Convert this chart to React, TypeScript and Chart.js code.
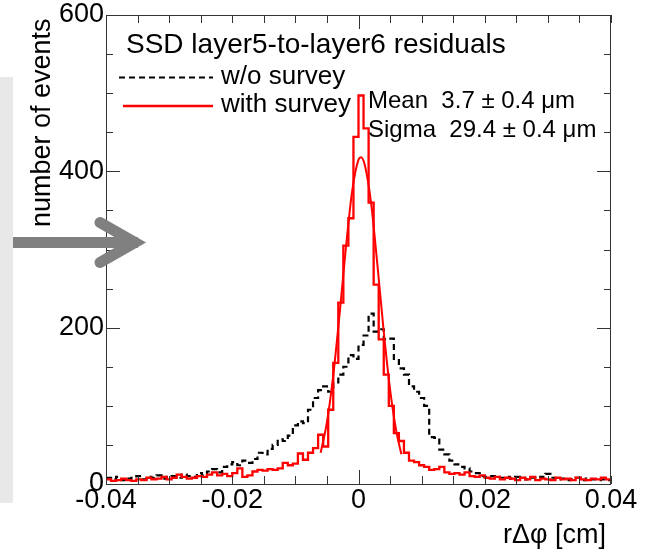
import React, { useEffect, useRef } from "react";
import { Chart, registerables } from "chart.js";

Chart.register(...registerables);

// ---- data ----
const binLow = -0.04;
const binWidth = 0.0008; // 100 bins over [-0.04, 0.04]

const withSurvey = [
  6, 4, 5, 7, 5, 4, 6, 5, 8, 6,
  7, 9, 6, 8, 12, 9, 7, 8, 10, 9,
  12, 15, 11, 13, 10, 14, 20, 9, 11, 16,
  18, 17, 19, 18, 20, 27, 24, 26, 39, 31,
  40, 46, 63, 48, 95, 155, 232, 305, 340, 444,
  497, 455, 360, 255, 185, 140, 100, 65, 55, 40,
  30, 28, 24, 22, 18, 19, 22, 15, 13, 14,
  12, 15, 10, 9, 11, 8, 7, 9, 6, 8,
  7, 5, 8, 6, 9, 5, 7, 6, 5, 8,
  6, 7, 5, 8, 6, 5, 7, 6, 8, 6,
];

const withoutSurvey = [
  8, 6, 9, 5, 7, 8, 10, 6, 9, 8,
  11, 7, 9, 10, 8, 12, 10, 9, 14, 11,
  16, 19, 15, 22, 25, 28, 24, 30, 27, 32,
  40, 38, 45, 50, 57, 55, 62, 75, 80, 78,
  95, 110, 120, 125, 118, 130, 140, 150, 165, 160,
  178, 190, 218, 195, 198, 185, 186, 160, 148, 140,
  125, 118, 110, 100, 60, 59, 44, 38, 30, 25,
  22, 20, 16, 14, 10, 9, 10, 9, 8, 9,
  7, 9, 8, 6, 8, 7, 9, 13, 8, 6,
  7, 5, 6, 8, 5, 7, 6, 5, 6, 5,
];

// Gaussian fit curve
const fitX = [-0.006, -0.005, -0.004, -0.003, -0.002, -0.001, 0, 0.0004, 0.001, 0.002, 0.003, 0.004, 0.005, 0.006, 0.0068];
const fitY = [40, 79, 139, 217, 302, 375, 415, 418, 408, 359, 280, 195, 121, 67, 38];

const xTickValues = [-0.04, -0.02, 0, 0.02, 0.04];
const yTickValues = [0, 200, 400, 600];
const xMinorStep = 0.005;
const yMinorStep = 50;

const plotTitle = "SSD layer5-to-layer6 residuals";
const legendLabels = ["w/o survey", "with survey"];
const statLines = ["Mean  3.7 \u00b1 0.4 \u03bcm", "Sigma  29.4 \u00b1 0.4 \u03bcm"];
const xTitle = "r\u0394\u03c6 [cm]";
const yTitle = "number of events";

const FONT = '"Liberation Sans", Arial, Helvetica, sans-serif';

function histPoints(counts: number[]) {
  const pts = counts.map((c, i) => ({ x: binLow + i * binWidth, y: c }));
  pts.push({ x: binLow + counts.length * binWidth, y: counts[counts.length - 1] });
  return pts;
}

function fmt(v: number) {
  const n = Number(Number(v).toFixed(3));
  return (n === 0 ? 0 : n).toString();
}

const decorPlugin = {
  id: "rootDecor",
  beforeDraw(chart: any) {
    const ctx = chart.ctx;
    ctx.save();
    ctx.fillStyle = "#ffffff";
    ctx.fillRect(0, 0, chart.width, chart.height);
    // grey side panel
    ctx.fillStyle = "#e8e8e8";
    ctx.fillRect(0, 77, 13, 426);
    ctx.restore();
  },
  afterDraw(chart: any) {
    const ctx = chart.ctx;
    const { left, right, top, bottom } = chart.chartArea;
    const xs = chart.scales.x;
    const ys = chart.scales.y;
    ctx.save();
    // frame
    ctx.strokeStyle = "#333";
    ctx.lineWidth = 1;
    ctx.strokeRect(left + 0.5, top + 0.5, right - left - 1, bottom - top);
    // x ticks (inside, bottom and top)
    ctx.beginPath();
    for (let k = -8; k <= 8; k++) {
      const v = k * xMinorStep;
      const px = Math.round(xs.getPixelForValue(v)) + 0.5;
      const len = k === 0 ? 14 : 8;
      ctx.moveTo(px, bottom);
      ctx.lineTo(px, bottom - len);
      ctx.moveTo(px, top);
      ctx.lineTo(px, top + len);
    }
    // y ticks (inside, left and right)
    for (let k = 0; k <= 12; k++) {
      const v = k * yMinorStep;
      const py = Math.round(ys.getPixelForValue(v)) + 0.5;
      const len = yTickValues.includes(v) ? 14 : 7;
      ctx.moveTo(left, py);
      ctx.lineTo(left + len, py);
      ctx.moveTo(right, py);
      ctx.lineTo(right - len, py);
    }
    ctx.stroke();

    // texts
    ctx.fillStyle = "#000";
    ctx.textBaseline = "alphabetic";
    ctx.textAlign = "left";
    ctx.font = `28px ${FONT}`;
    ctx.fillText(plotTitle, 126, 53);

    // legend
    ctx.strokeStyle = "#000";
    ctx.lineWidth = 2;
    ctx.setLineDash([6, 4]);
    ctx.beginPath();
    ctx.moveTo(119, 77.5);
    ctx.lineTo(213, 77.5);
    ctx.stroke();
    ctx.setLineDash([]);
    ctx.strokeStyle = "#ff0000";
    ctx.lineWidth = 2.5;
    ctx.beginPath();
    ctx.moveTo(123, 106);
    ctx.lineTo(213, 106);
    ctx.stroke();
    ctx.font = `26px ${FONT}`;
    ctx.fillText(legendLabels[0], 221, 84);
    ctx.fillText(legendLabels[1], 221, 112);

    // stats
    ctx.font = `24px ${FONT}`;
    ctx.fillText(statLines[0], 368, 108);
    ctx.fillText(statLines[1], 368, 137);

    // axis titles
    ctx.font = `27px ${FONT}`;
    ctx.textAlign = "right";
    ctx.fillText(xTitle, 606, 543);
    ctx.save();
    ctx.translate(50, 227);
    ctx.rotate(-Math.PI / 2);
    ctx.textAlign = "left";
    ctx.font = `27px ${FONT}`;
    ctx.fillText(yTitle, 0, 0);
    ctx.restore();

    // grey arrow
    ctx.fillStyle = "#808080";
    ctx.fillRect(13, 237, 125, 11);
    ctx.strokeStyle = "#808080";
    ctx.lineWidth = 11;
    ctx.lineCap = "round";
    ctx.lineJoin = "miter";
    ctx.beginPath();
    ctx.moveTo(100, 222.5);
    ctx.lineTo(135, 242.5);
    ctx.lineTo(100, 262.5);
    ctx.stroke();
    ctx.restore();
  },
};

export default function App() {
  const ref = useRef<HTMLCanvasElement | null>(null);
  useEffect(() => {
    document.body.style.margin = "0";
    const canvas = ref.current;
    if (!canvas) return;
    const chart = new Chart(canvas, {
      type: "line",
      data: {
        datasets: [
          {
            label: legendLabels[1],
            data: histPoints(withSurvey),
            borderColor: "#ff0000",
            borderWidth: 2.3,
            stepped: true,
            pointRadius: 0,
            fill: false,
          },
          {
            label: "fit",
            data: fitX.map((x, i) => ({ x, y: fitY[i] })),
            borderColor: "#ff0000",
            borderWidth: 2,
            cubicInterpolationMode: "monotone",
            pointRadius: 0,
            fill: false,
          },
          {
            label: legendLabels[0],
            data: histPoints(withoutSurvey),
            borderColor: "#000000",
            borderWidth: 2.2,
            borderDash: [6, 4],
            stepped: true,
            pointRadius: 0,
            fill: false,
          },
        ],
      } as any,
      options: {
        animation: false,
        responsive: false,
        maintainAspectRatio: false,
        events: [],
        layout: { padding: { left: 0, right: 42, top: 15, bottom: 0 } },
        plugins: {
          legend: { display: false },
          tooltip: { enabled: false },
          title: { display: false },
        },
        scales: {
          x: {
            type: "linear",
            min: -0.04,
            max: 0.04,
            grid: { display: false, drawTicks: false },
            border: { display: false },
            afterBuildTicks: (s: any) => {
              s.ticks = xTickValues.map((v) => ({ value: v }));
            },
            afterFit: (s: any) => {
              s.height = 68;
            },
            ticks: {
              autoSkip: false,
              maxRotation: 0,
              minRotation: 0,
              padding: 0,
              color: "#000",
              font: { family: FONT, size: 27 },
              callback: (v: any) => fmt(v),
            },
          },
          y: {
            type: "linear",
            min: 0,
            max: 600,
            grid: { display: false, drawTicks: false },
            border: { display: false },
            afterBuildTicks: (s: any) => {
              s.ticks = yTickValues.map((v) => ({ value: v }));
            },
            afterFit: (s: any) => {
              s.width = 106;
            },
            ticks: {
              autoSkip: false,
              padding: 2,
              color: "#000",
              font: { family: FONT, size: 27, lineHeight: 0.9 },
              callback: (v: any) => fmt(v),
            },
          },
        },
      } as any,
      plugins: [decorPlugin],
    });
    return () => chart.destroy();
  }, []);
  return (
    <canvas
      ref={ref}
      width={653}
      height={552}
      style={{ display: "block", position: "absolute", left: 0, top: 0 }}
    />
  );
}
